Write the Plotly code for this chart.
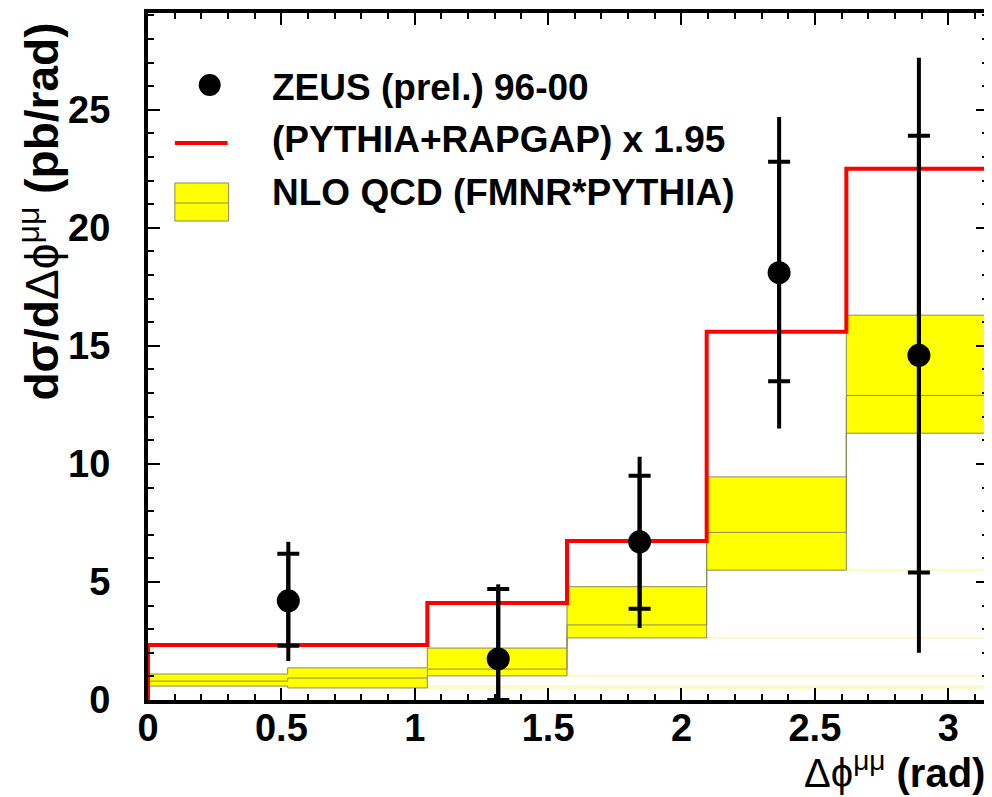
import math
import plotly.graph_objects as go

PI = math.pi

# ---- data ----
red_edges = [0, PI / 3, PI / 2, 2 * PI / 3, 5 * PI / 6, PI]
red_vals = [2.33, 4.11, 6.74, 15.6, 22.5]

nlo_edges = [0, PI / 6, PI / 3, PI / 2, 2 * PI / 3, 5 * PI / 6, PI]
nlo_low = [0.59, 0.51, 1.02, 2.63, 5.5, 11.3]
nlo_mid = [0.80, 0.93, 1.31, 3.18, 7.1, 12.9]
nlo_high = [1.10, 1.36, 2.20, 4.80, 9.45, 16.3]

data_x = [0.526, 1.313, 1.843, 2.366, 2.89]
data_y = [4.2, 1.74, 6.7, 18.1, 14.6]
stat_up = [6.2, 4.7, 9.5, 22.8, 23.9]
stat_lo = [2.3, 0.0, 3.86, 13.5, 5.4]
tot_up = [6.7, 4.9, 10.3, 24.7, 27.2]
tot_lo = [1.65, 0.0, 3.05, 11.5, 2.0]

legend_labels = ["ZEUS (prel.) 96-00", "(PYTHIA+RAPGAP) x 1.95", "NLO QCD (FMNR*PYTHIA)"]

# ---- layout geometry (pixels; page body has an 8px margin) ----
OFF = 8
W, H = 992 - OFF, 797 - OFF
L, R, T, B = 148 - OFF, 0, 13 - OFF, 797 - 700
PW, PH = W - L - R, H - T - B


def px(x):  # screen x -> paper
    return (x - OFF - L) / PW


def py(y):  # screen y -> paper
    return (H - B - (y - OFF)) / PH


FONT = "Liberation Sans, Arial, Helvetica, sans-serif"
OLIVE = "#8c8c55"
YELLOW = "#ffff00"

fig = go.Figure()

# faint continuation of the band's lower edges
for i in range(len(nlo_low) - 1):
    fig.add_trace(go.Scatter(
        x=[nlo_edges[i + 1], PI], y=[nlo_low[i], nlo_low[i]], mode="lines",
        line=dict(color="#fff7b8", width=1.5), showlegend=False, hoverinfo="skip"))

# NLO band
fig.add_trace(go.Scatter(
    x=nlo_edges, y=nlo_low + [nlo_low[-1]], mode="lines", line_shape="hv",
    line=dict(color=OLIVE, width=1), showlegend=False))
fig.add_trace(go.Scatter(
    x=nlo_edges, y=nlo_high + [nlo_high[-1]], mode="lines", line_shape="hv",
    line=dict(color=OLIVE, width=1), fill="tonexty", fillcolor=YELLOW,
    showlegend=False))
fig.add_trace(go.Scatter(
    x=nlo_edges, y=nlo_mid + [nlo_mid[-1]], mode="lines", line_shape="hv",
    line=dict(color=OLIVE, width=1), showlegend=False))

# PYTHIA+RAPGAP histogram
fig.add_trace(go.Scatter(
    x=[0] + red_edges, y=[0] + red_vals + [red_vals[-1]], mode="lines",
    line_shape="hv", line=dict(color="#ff0000", width=4), showlegend=False))

# data: total errors (no caps)
fig.add_trace(go.Scatter(
    x=data_x, y=data_y, mode="markers",
    marker=dict(size=1, color="rgba(0,0,0,0)"),
    error_y=dict(type="data", symmetric=False,
                 array=[u - y for u, y in zip(tot_up, data_y)],
                 arrayminus=[y - l for y, l in zip(data_y, tot_lo)],
                 color="black", thickness=4, width=0),
    showlegend=False))
# data: statistical errors (with caps) and points
fig.add_trace(go.Scatter(
    x=data_x, y=data_y, mode="markers",
    marker=dict(size=23, color="black", symbol="circle"),
    error_y=dict(type="data", symmetric=False,
                 array=[u - y for u, y in zip(stat_up, data_y)],
                 arrayminus=[y - l for y, l in zip(data_y, stat_lo)],
                 color="black", thickness=4, width=11),
    showlegend=False))

shapes = []
# legend keys
shapes.append(dict(type="circle", xref="paper", yref="paper",
                   x0=px(199), x1=px(221), y0=py(74), y1=py(96),
                   fillcolor="black", line=dict(color="black", width=0)))
shapes.append(dict(type="line", xref="paper", yref="paper",
                   x0=px(175), x1=px(228), y0=py(143), y1=py(143),
                   line=dict(color="#ff0000", width=4)))
shapes.append(dict(type="rect", xref="paper", yref="paper",
                   x0=px(175), x1=px(229), y0=py(221), y1=py(183),
                   fillcolor=YELLOW, line=dict(color=OLIVE, width=1)))
shapes.append(dict(type="line", xref="paper", yref="paper",
                   x0=px(175), x1=px(229), y0=py(203), y1=py(203),
                   line=dict(color=OLIVE, width=1)))

annotations = []
for lab, yc in zip(legend_labels, [87, 139, 192]):
    annotations.append(dict(text="<b>" + lab + "</b>", xref="paper", yref="paper",
                            x=px(271), y=py(yc), xanchor="left", yanchor="middle",
                            showarrow=False, font=dict(family=FONT, size=37, color="black")))

annotations.append(dict(text="<b>dσ/d</b>Δϕ<sup>μμ</sup><b> (pb/rad)</b>", xref="paper", yref="paper",
                        x=px(38), y=py(212), xanchor="center", yanchor="middle",
                        textangle=-90, showarrow=False,
                        font=dict(family=FONT, size=46, color="black")))
annotations.append(dict(text="Δϕ<sup>μμ</sup><b> (rad)</b>", xref="paper", yref="paper",
                        x=px(991), y=py(797), xanchor="right", yanchor="bottom",
                        showarrow=False,
                        font=dict(family=FONT, size=40, color="black")))

tickfont = dict(family=FONT, size=38, color="black", weight="bold")

fig.update_layout(
    width=W, height=H,
    margin=dict(l=L, r=R, t=T, b=B, pad=0),
    paper_bgcolor="white", plot_bgcolor="white",
    showlegend=False,
    shapes=shapes, annotations=annotations,
    xaxis=dict(range=[0, PI * PW / (990 - 148)], showgrid=False, zeroline=False,
               showline=True, linecolor="black", linewidth=4, mirror="ticks",
               ticks="inside", ticklen=12, tickwidth=1.5, tickcolor="black",
               tick0=0, dtick=0.5, tickfont=tickfont, ticklabelstandoff=-9,
               minor=dict(ticks="inside", dtick=0.1, ticklen=6, tickwidth=1.5,
                          tickcolor="black", showgrid=False)),
    yaxis=dict(range=[0, 29.1], showgrid=False, zeroline=False,
               showline=True, linecolor="black", linewidth=4, mirror="ticks",
               ticks="inside", ticklen=12, tickwidth=1.5, tickcolor="black",
               tick0=0, dtick=5, tickfont=tickfont, ticklabelstandoff=26,
               minor=dict(ticks="inside", dtick=1, ticklen=6, tickwidth=1.5,
                          tickcolor="black", showgrid=False)),
)

fig.write_html("out.html")
